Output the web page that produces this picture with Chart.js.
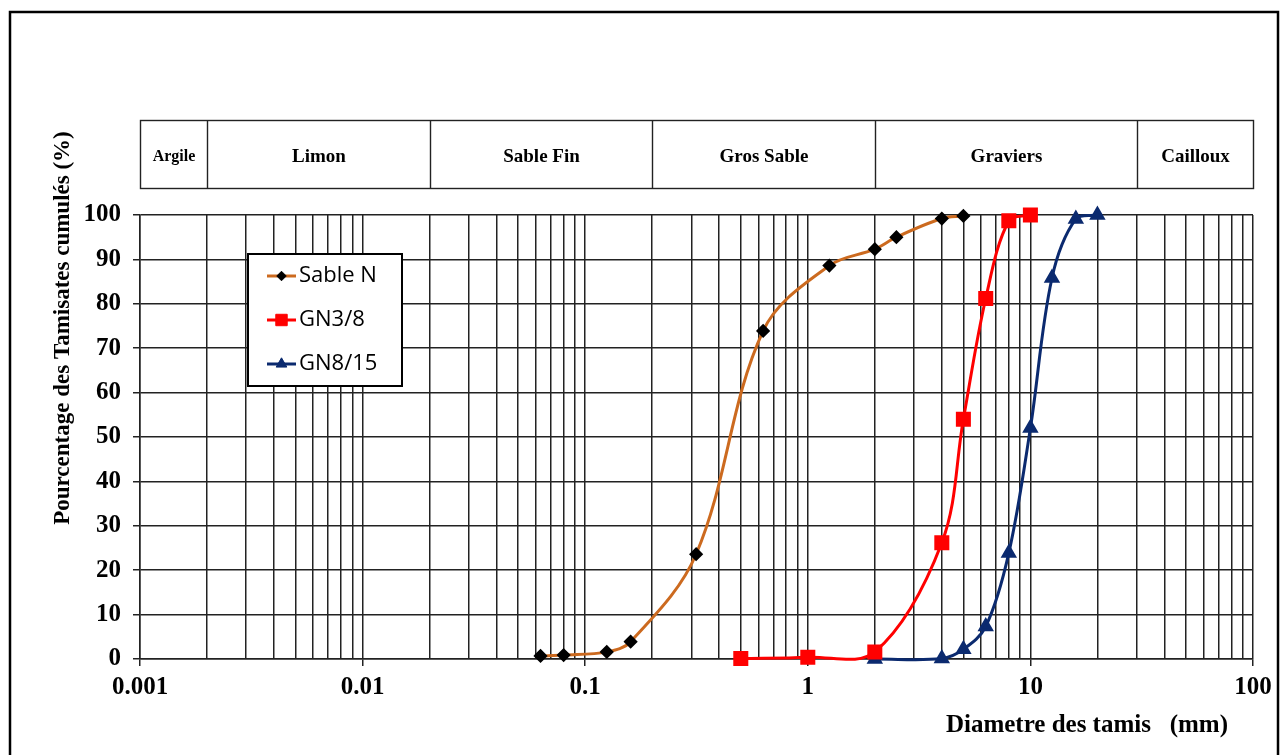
<!DOCTYPE html>
<html>
<head>
<meta charset="utf-8">
<script src="https://cdn.jsdelivr.net/npm/chart.js@4.4.1/dist/chart.umd.min.js"></script>
<style>
body { margin: 0; background: #fff; }
</style>
</head>
<body>
<canvas id="granuloChart" width="1285" height="755"></canvas>
<script>
// sieve sizes (mm) and cumulative passing (%)
const sableX = [0.063, 0.08, 0.125, 0.16, 0.315, 0.63, 1.25, 2, 2.5, 4, 5];
const sableY = [0.7, 0.9, 1.6, 3.9, 23.6, 73.9, 88.6, 92.3, 95.0, 99.2, 99.8];

const gn38X = [0.5, 1, 2, 4, 5, 6.3, 8, 10];
const gn38Y = [0.1, 0.4, 1.6, 26.2, 54, 81.2, 98.7, 100];

const gn815X = [2, 4, 5, 6.3, 8, 10, 12.5, 16, 20];
const gn815Y = [0, 0.1, 2.2, 7.3, 23.9, 52, 85.8, 99.1, 100];

const seriesNames = ["Sable N", "GN3/8", "GN8/15"];

// soil classes band above the plot
const classBounds = [0.001, 0.002, 0.02, 0.2, 2, 30, 100];
const classNames = ["Argile", "Limon", "Sable Fin", "Gros Sable", "Graviers", "Cailloux"];

const xTickLabels = ["0.001", "0.01", "0.1", "1", "10", "100"];
const yTicks = [0, 10, 20, 30, 40, 50, 60, 70, 80, 90, 100];

const yTitle = "Pourcentage des Tamisates cumulés (%)";
const xTitle = "Diametre des tamis   (mm)";

const SERIF = "'Liberation Serif', 'Times New Roman', serif";

function toPoints(xs, ys) {
    return xs.map((x, i) => ({ x: x, y: ys[i] }));
}

// log grid: 1..9 x 10^n between 0.001 and 100
const xGrid = [];
for (let e = -3; e <= 1; e++) {
    for (let m = 1; m <= 9; m++) {
        xGrid.push(Number((m * Math.pow(10, e)).toPrecision(3)));
    }
}
xGrid.push(100);

const majors = xTickLabels.map(Number);
function isMajor(v) {
    return majors.some(m => Math.abs(m - v) / m < 1e-6);
}

const sheetPlugin = {
    id: "sheet",
    beforeDraw(chart) {
        const c = chart.ctx;
        c.save();
        c.fillStyle = "#fff";
        c.fillRect(0, 0, chart.width, chart.height);
        c.restore();
    },
    afterDraw(chart) {
        const c = chart.ctx;
        const xs = chart.scales.x;
        c.save();

        // outer frame
        c.strokeStyle = "#000";
        c.lineWidth = 2.5;
        c.strokeRect(10, 12, 1268, 770);

        // class band
        const top = 120, bottom = 188;
        c.lineWidth = 1.4;
        c.strokeStyle = "#222";
        const px = classBounds.map(v => Math.round(xs.getPixelForValue(v)) + 0.5);
        c.strokeRect(px[0], top + 0.5, px[px.length - 1] - px[0], bottom - top);
        c.beginPath();
        for (let i = 1; i < px.length - 1; i++) {
            c.moveTo(px[i], top);
            c.lineTo(px[i], bottom);
        }
        c.stroke();
        c.fillStyle = "#000";
        c.textAlign = "center";
        c.textBaseline = "middle";
        classNames.forEach((name, i) => {
            c.font = (i === 0 ? "bold 16px " : "bold 19px ") + SERIF;
            c.fillText(name, (px[i] + px[i + 1]) / 2, 157);
        });

        // axis titles
        c.font = "bold 23px " + SERIF;
        c.save();
        c.translate(63, 328);
        c.rotate(-Math.PI / 2);
        c.fillText(yTitle, 0, 0);
        c.restore();
        c.font = "bold 25px " + SERIF;
        c.textAlign = "right";
        c.fillText(xTitle, 1228, 726);

        // legend box
        c.fillStyle = "#fff";
        c.fillRect(248, 254, 154, 132);
        c.lineWidth = 2;
        c.strokeStyle = "#000";
        c.strokeRect(248, 254, 154, 132);
        chart.data.datasets.forEach((ds, i) => {
            const y = 276 + 44 * i;
            c.strokeStyle = ds.borderColor;
            c.lineWidth = 3;
            c.beginPath();
            c.moveTo(267, y);
            c.lineTo(296, y);
            c.stroke();
            c.fillStyle = ds.pointBackgroundColor;
            c.strokeStyle = ds.pointBorderColor;
            c.lineWidth = 1;
            Chart.helpers.drawPoint(c, {
                pointStyle: ds.pointStyle,
                radius: ds.pointRadius * 0.95,
                rotation: 0,
                borderWidth: 1
            }, 281.5, y);
            c.fillStyle = "#000";
            c.textAlign = "left";
            c.font = "22px 'Open Sans', sans-serif";
            c.fillText(ds.label, 299, y);
        });
        c.restore();
    }
};

const ctx = document.getElementById("granuloChart");

const granuloChart = new Chart(ctx, {
    type: "line",
    data: {
        datasets: [{
            label: seriesNames[0],
            data: toPoints(sableX, sableY),
            borderColor: "#CC6A1F",
            borderWidth: 3,
            pointStyle: "rectRot",
            pointRadius: 5,
            pointBackgroundColor: "#000",
            pointBorderColor: "#000",
            tension: 0.35,
            clip: false
        }, {
            label: seriesNames[1],
            data: toPoints(gn38X, gn38Y),
            borderColor: "#FF0000",
            borderWidth: 3,
            pointStyle: "rect",
            pointRadius: 8.5,
            pointBackgroundColor: "#FF0000",
            pointBorderColor: "#FF0000",
            tension: 0.35,
            clip: false
        }, {
            label: seriesNames[2],
            data: toPoints(gn815X, gn815Y),
            borderColor: "#0B2A6F",
            borderWidth: 3,
            pointStyle: "triangle",
            pointRadius: 6.5,
            pointBackgroundColor: "#0B2A6F",
            pointBorderColor: "#0B2A6F",
            tension: 0.35,
            clip: false
        }]
    },
    options: {
        responsive: false,
        devicePixelRatio: 1,
        animation: false,
        layout: {
            padding: { left: 0, top: 215, right: 32, bottom: 0 }
        },
        elements: {
            line: { capBezierPoints: false }
        },
        plugins: {
            legend: { display: false },
            tooltip: { enabled: false }
        },
        scales: {
            x: {
                type: "logarithmic",
                min: 0.001,
                max: 100,
                afterBuildTicks(scale) {
                    scale.ticks = xGrid.map(v => ({ value: v }));
                },
                afterFit(scale) {
                    scale.height = 96;
                },
                border: { color: "#222", width: 1.5 },
                grid: {
                    color: "#222",
                    lineWidth: 1.5,
                    drawTicks: true,
                    tickLength: 7,
                    tickColor: c => (c.tick && isMajor(c.tick.value)) ? "#222" : "rgba(0,0,0,0)"
                },
                ticks: {
                    autoSkip: false,
                    maxRotation: 0,
                    padding: 7,
                    color: "#000",
                    font: { family: SERIF, size: 25, weight: "bold" },
                    callback: function (value) {
                        const i = majors.findIndex(m => Math.abs(m - value) / m < 1e-6);
                        return i >= 0 ? xTickLabels[i] : "";
                    }
                }
            },
            y: {
                min: 0,
                max: 100,
                afterBuildTicks(scale) {
                    scale.ticks = yTicks.map(v => ({ value: v }));
                },
                afterFit(scale) {
                    scale.width = 140;
                },
                border: { color: "#222", width: 1.5 },
                grid: {
                    color: "#222",
                    lineWidth: 1.5,
                    tickLength: 7
                },
                ticks: {
                    padding: 12,
                    color: "#000",
                    font: { family: SERIF, size: 25, weight: "bold" }
                }
            }
        }
    },
    plugins: [sheetPlugin]
});
</script>
</body>
</html>
